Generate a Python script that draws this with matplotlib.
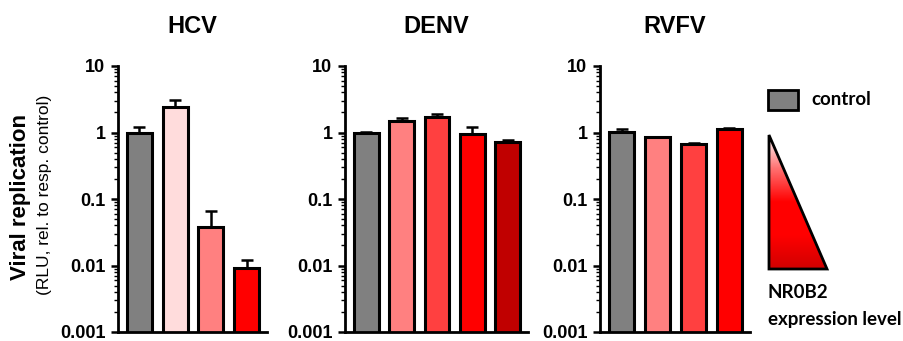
import numpy as np
import matplotlib
matplotlib.use("Agg")
import matplotlib.pyplot as plt
from matplotlib.patches import Polygon, Rectangle
from matplotlib.colors import LinearSegmentedColormap
from matplotlib.ticker import LogLocator, NullFormatter, FixedLocator, FixedFormatter

plt.rcParams['font.family'] = ['Liberation Sans', 'DejaVu Sans']

# ---- data ----
titles = ["HCV", "DENV", "RVFV"]
hcv_vals = [1.0, 2.4, 0.038, 0.0092]
hcv_err_top = [1.23, 3.1, 0.065, 0.0122]
hcv_colors = ["#808080", "#ffdcdc", "#ff8080", "#ff0000"]

denv_vals = [1.0, 1.5, 1.7, 0.95, 0.71]
denv_err_top = [1.03, 1.65, 1.87, 1.23, 0.76]
denv_colors = ["#808080", "#ff8080", "#ff4040", "#ff0000", "#c00000"]

rvfv_vals = [1.02, 0.85, 0.67, 1.13]
rvfv_err_top = [1.12, 0.86, 0.70, 1.17]
rvfv_colors = ["#808080", "#ff8080", "#ff4040", "#ff0000"]

ytick_vals = [0.001, 0.01, 0.1, 1, 10]
ytick_labels = ["0.001", "0.01", "0.1", "1", "10"]

panels = [
    (titles[0], hcv_vals, hcv_err_top, hcv_colors, [118, 267]),
    (titles[1], denv_vals, denv_err_top, denv_colors, [345, 528]),
    (titles[2], rvfv_vals, rvfv_err_top, rvfv_colors, [600, 750]),
]

W, H = 904, 341
fig = plt.figure(figsize=(W / 100, H / 100), dpi=100)

y_top_px, y_bot_px = 66, 332
for title, vals, errt, cols, (x0, x1) in panels:
    ax = fig.add_axes([x0 / W, 1 - y_bot_px / H, (x1 - x0) / W, (y_bot_px - y_top_px) / H])
    n = len(vals)
    x = np.arange(n)
    vals = np.array(vals)
    errt = np.array(errt)
    yerr = np.vstack([np.zeros(n), errt - vals])
    ax.errorbar(x, vals, yerr=yerr, fmt='none', ecolor='black', elinewidth=1.8,
                capsize=4.5, capthick=1.8, zorder=1)
    ax.bar(x, vals, width=0.7, color=cols, edgecolor='black', linewidth=2.2, zorder=2)
    ax.set_yscale('log')
    ax.set_ylim(0.001, 10)
    ax.set_xlim(-0.6, n - 1 + 0.57)
    ax.set_xticks([])
    ax.yaxis.set_major_locator(FixedLocator(ytick_vals))
    ax.yaxis.set_major_formatter(FixedFormatter(ytick_labels))
    ax.yaxis.set_minor_locator(LogLocator(base=10, subs=np.arange(2, 10)))
    ax.yaxis.set_minor_formatter(NullFormatter())
    ax.tick_params(axis='y', which='major', length=5, width=1.8, labelsize=13, pad=4)
    ax.tick_params(axis='y', which='minor', length=3, width=1.0)
    for lab in ax.get_yticklabels():
        lab.set_fontweight('bold')
    for s in ['top', 'right']:
        ax.spines[s].set_visible(False)
    for s in ['left', 'bottom']:
        ax.spines[s].set_linewidth(2.0)
    ax.set_title(title, fontsize=17, fontweight='bold', pad=24)
    ax.patch.set_alpha(0)

# y labels
fig.text(21 / W, 1 - 197 / H, "Viral replication", rotation=90, ha='center', va='center',
         fontsize=16, fontweight='bold')
fig.text(45 / W, 1 - 195 / H, "(RLU, rel. to resp. control)", rotation=90, ha='center',
         va='center', fontsize=12.5)

# legend: control box
fig.patches.append(Rectangle((768 / W, 1 - 110 / H), 30 / W, 20 / H, transform=fig.transFigure,
                             facecolor="#808080", edgecolor='black', linewidth=2.0))
leg_font = ['Lato', 'DejaVu Sans']
fig.text(811 / W, 1 - 105 / H, "control", ha='left', va='baseline', fontsize=13.5,
         fontweight='bold', family=leg_font)

# legend: gradient triangle
tax = fig.add_axes([769 / W, 1 - 269 / H, 58 / W, 134 / H])
tax.set_xlim(0, 1)
tax.set_ylim(0, 1)
tax.axis('off')
cmap = LinearSegmentedColormap.from_list('g', ["#ffffff", "#ff7070", "#ff0000", "#ff0000", "#d00000"])
grad = np.linspace(0, 1, 256)[:, None]
im = tax.imshow(grad, extent=[0, 1, 0, 1], origin='upper', aspect='auto', cmap=cmap)
tri = Polygon([[0, 1], [0, 0], [1, 0]], closed=True, facecolor='none', edgecolor='black',
              linewidth=2.0, transform=tax.transData, clip_on=False)
tax.add_patch(tri)
im.set_clip_path(tri)

fig.text(768 / W, 1 - 298 / H, "NR0B2", ha='left', va='baseline', fontsize=13.5,
         fontweight='bold', family=leg_font)
fig.text(768 / W, 1 - 325 / H, "expression level", ha='left', va='baseline', fontsize=13.5,
         fontweight='bold', family=leg_font)

fig.savefig("out.png", dpi=100)
